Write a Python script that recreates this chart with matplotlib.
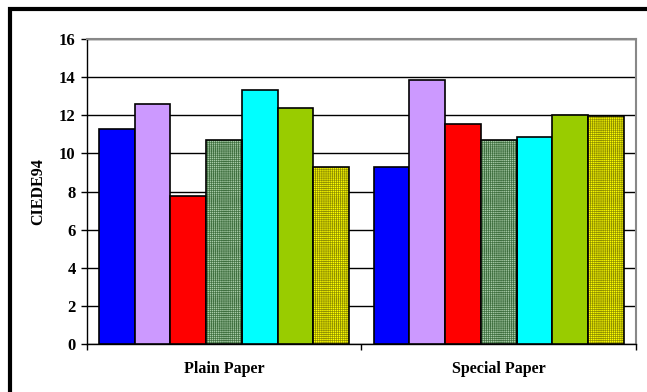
import matplotlib.pyplot as plt
import matplotlib.patches as mpatches
import numpy as np

categories = ['Plain Paper', 'Special Paper']
plain = [11.3, 12.6, 7.75, 10.7, 13.3, 12.4, 9.3]
special = [9.3, 13.85, 11.55, 10.7, 10.85, 12.0, 11.95]
colors = ['#0000ff', '#cc99ff', '#ff0000', '#a8cca8', '#00ffff', '#99cc00', '#ffff00']
hatches = [None, None, None, '++++++++', None, None, '++++++++']
hatch_colors = [None, None, None, '#3f6f3f', None, None, '#8f8f00']
yticks = [0, 2, 4, 6, 8, 10, 12, 14, 16]

plt.rcParams['font.family'] = ['Liberation Serif', 'DejaVu Serif']
plt.rcParams['font.weight'] = 'bold'
plt.rcParams['hatch.linewidth'] = 0.5

fig = plt.figure(figsize=(6.47, 3.92), dpi=100)
ax = fig.add_axes([86.7/647, 1-344/392, (636-86.7)/647, (344-39)/392])

# outer frame
fig.patches.append(mpatches.Rectangle((10/647, -0.1), 1.2, 1-9/392+0.1, transform=fig.transFigure,
                                      fill=False, edgecolor='black', linewidth=3))

data = np.array([plain, special])
n = len(plain)
group_w = 0.91
w = group_w / n
x = np.arange(len(categories))
for i in range(n):
    pos = x - group_w/2 + w*(i+0.5)
    if hatches[i]:
        ax.bar(pos, data[:, i], w, color=colors[i], hatch=hatches[i], edgecolor=hatch_colors[i],
               linewidth=0, zorder=3)
        ax.bar(pos, data[:, i], w, fill=False, edgecolor='black', linewidth=1.2, zorder=4)
    else:
        ax.bar(pos, data[:, i], w, color=colors[i], edgecolor='black', linewidth=1.2, zorder=3)

ax.set_xlim(-0.5, 1.5)
ax.set_ylim(0, 16)
ax.set_yticks(yticks)
ax.yaxis.grid(True, color='black', linewidth=1.0, zorder=0)
ax.set_axisbelow(True)
ax.set_xticks([-0.5, 0.5, 1.5])
ax.set_xticklabels([])
ax.set_xticks(x, minor=True)
ax.set_xticklabels(categories, minor=True, fontsize=11.5, fontweight='bold')
ax.tick_params(axis='x', which='minor', length=0, pad=12)
ax.tick_params(axis='x', which='major', direction='out', length=4, width=1)
ax.tick_params(axis='y', direction='out', length=4, width=1, labelsize=12, pad=4)
ax.set_ylabel('CIEDE94', fontsize=11.5, fontweight='bold', labelpad=9)

for s in ['top', 'right']:
    ax.spines[s].set_color('#888888')
    ax.spines[s].set_linewidth(1.5)
for s in ['left', 'bottom']:
    ax.spines[s].set_color('black')
    ax.spines[s].set_linewidth(1.0)

fig.savefig('out.png', dpi=100)
